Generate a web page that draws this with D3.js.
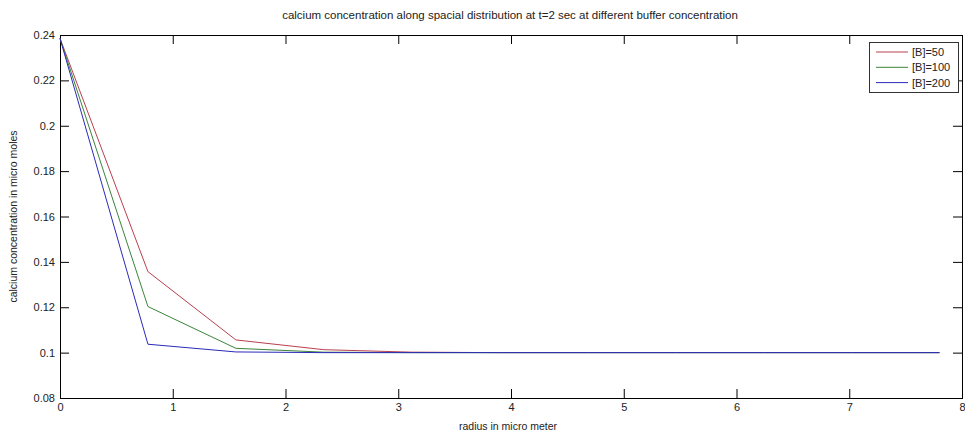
<!DOCTYPE html>
<html>
<head>
<meta charset="utf-8" />
<title>calcium concentration</title>
<script src="https://cdn.jsdelivr.net/npm/d3@7/dist/d3.min.js"></script>
<style>
	body { margin: 0; background: #fff; }
	svg text { font-family: "Liberation Sans", Arial, sans-serif; fill: #222; }
</style>
</head>
<body>
<script>
// radius values (micro meter)
var radius = [0, 0.78, 1.56, 2.34, 3.12, 3.9, 4.68, 5.46, 6.24, 7.02, 7.8];
// concentration per buffer value
var b50  = [0.2385, 0.1357, 0.1056, 0.1013, 0.1002, 0.1, 0.1, 0.1, 0.1, 0.1, 0.1];
var b100 = [0.2385, 0.1203, 0.1019, 0.1002, 0.1, 0.1, 0.1, 0.1, 0.1, 0.1, 0.1];
var b200 = [0.2385, 0.1037, 0.1003, 0.1, 0.1, 0.1, 0.1, 0.1, 0.1, 0.1, 0.1];
var seriesNames = ["[B]=50", "[B]=100", "[B]=200"];
var xTicks = [0, 1, 2, 3, 4, 5, 6, 7, 8];
var yTicks = [0.08, 0.1, 0.12, 0.14, 0.16, 0.18, 0.2, 0.22, 0.24];

var colors = ["#b8404f", "#3a843a", "#2a2ab8"];
var series = [b50, b100, b200];

var W = 965, H = 434;
var margin = {top: 35, left: 60};
var width = 962 - margin.left, height = 398 - margin.top;

var svg = d3.select("body").append("svg")
	.attr("width", W)
	.attr("height", H);

var g = svg.append("g")
	.attr("transform", "translate(" + margin.left + "," + margin.top + ")");

var x = d3.scaleLinear().domain([0, 8]).range([0, width]);
var y = d3.scaleLinear().domain([0.08, 0.24]).range([height, 0]);

// box
g.append("rect")
	.attr("x", 0.5).attr("y", 0.5)
	.attr("width", width).attr("height", height)
	.attr("fill", "none").attr("stroke", "#000");

// bottom / left axes with inward ticks
g.append("g").attr("class", "axis")
	.attr("transform", "translate(0," + height + ")")
	.call(d3.axisBottom(x).tickValues(xTicks).tickSizeInner(-9).tickSizeOuter(0).tickPadding(5).tickFormat(d3.format("d")));
g.append("g").attr("class", "axis")
	.call(d3.axisLeft(y).tickValues(yTicks).tickSizeInner(-9).tickSizeOuter(0).tickPadding(5)
		.tickFormat(function(d) { return String(+d.toFixed(2)); }));
// mirrored ticks top / right
g.append("g").attr("class", "axis")
	.call(d3.axisTop(x).tickValues(xTicks).tickSizeInner(-9).tickSizeOuter(0).tickFormat(""));
g.append("g").attr("class", "axis")
	.attr("transform", "translate(" + width + ",0)")
	.call(d3.axisRight(y).tickValues(yTicks).tickSizeInner(-9).tickSizeOuter(0).tickFormat(""));

g.selectAll(".axis .domain").remove();
g.selectAll(".axis .tick line").attr("stroke", "#000").attr("stroke-width", 1);
g.selectAll(".axis text").style("font-size", "11px").attr("fill", "#222");

// lines
var line = d3.line()
	.x(function(d, i) { return x(radius[i]); })
	.y(function(d) { return y(d); });

series.forEach(function(s, i) {
	g.append("path")
		.datum(s)
		.attr("fill", "none")
		.attr("stroke", colors[i])
		.attr("stroke-width", 1)
		.attr("d", line);
});

// title & labels
svg.append("text")
	.attr("x", 510).attr("y", 19)
	.attr("text-anchor", "middle")
	.style("font-size", "11.5px")
	.text("calcium concentration along spacial distribution at t=2 sec at different buffer concentration");

svg.append("text")
	.attr("x", 508).attr("y", 430)
	.attr("text-anchor", "middle")
	.style("font-size", "10.5px")
	.text("radius in micro meter");

svg.append("text")
	.attr("transform", "translate(17," + (margin.top + height / 2) + ") rotate(-90)")
	.attr("text-anchor", "middle")
	.style("font-size", "10.5px")
	.text("calcium concentration in micro moles");

// legend
var leg = svg.append("g").attr("transform", "translate(869,42)");
leg.append("rect")
	.attr("x", 0.5).attr("y", 0.5)
	.attr("width", 89).attr("height", 50)
	.attr("fill", "#fff").attr("stroke", "#333");
seriesNames.forEach(function(n, i) {
	var yy = 10 + i * 15.3;
	leg.append("line")
		.attr("x1", 7).attr("x2", 39)
		.attr("y1", yy).attr("y2", yy)
		.attr("stroke", colors[i]);
	leg.append("text")
		.attr("x", 43).attr("y", yy + 4)
		.style("font-size", "11px")
		.text(n);
});
</script>
</body>
</html>
